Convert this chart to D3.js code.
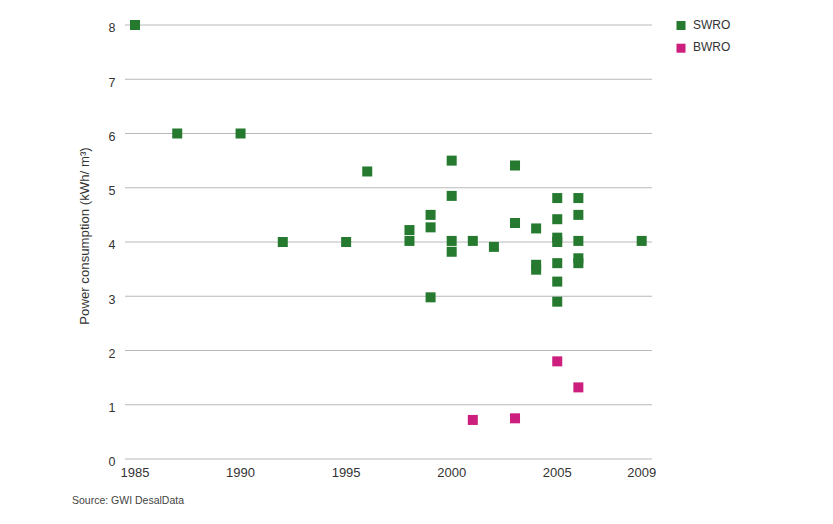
<!DOCTYPE html>
<html><head><meta charset="utf-8">
<script src="https://cdn.jsdelivr.net/npm/d3@7"></script>
<style>body{margin:0;background:#fff;} svg{display:block;font-family:"Liberation Sans",Arial,sans-serif;}</style>
</head><body>
<script>
const seriesNames = ["SWRO", "BWRO"];
const seriesColors = ["#257a2f", "#cc1f7d"];
const swroYears = [1985,1987,1990,1992,1995,1996,1998,1998,1999,1999,1999,2000,2000,2000,2000,2001,2002,2003,2003,2004,2004,2004,2005,2005,2005,2005,2005,2005,2005,2006,2006,2006,2006,2006,2009];
const swroValues = [8.0,6.0,6.0,4.0,4.0,5.3,4.22,4.02,4.5,4.27,2.98,5.5,4.85,4.02,3.82,4.02,3.91,5.41,4.35,4.25,3.58,3.49,4.81,4.42,4.08,4.0,3.61,3.27,2.9,4.81,4.5,4.02,3.7,3.61,4.02];
const bwroYears = [2001,2003,2005,2006];
const bwroValues = [0.72,0.75,1.8,1.32];
const xTicks = [1985,1990,1995,2000,2005,2009];
const yTicks = [0,1,2,3,4,5,6,7,8];
const yTitle = "Power consumption (kWh/ m\u00B3)";
const sourceText = "Source: GWI DesalData";

const W = 833, H = 524;
const svg = d3.select("body").append("svg").attr("width", W).attr("height", H);
const x = d3.scaleLinear().domain([1985, 2009]).range([135, 641.7]);
const y = d3.scaleLinear().domain([0, 8]).range([459, 25]);

// gridlines
svg.append("g").selectAll("line").data(yTicks).join("line")
  .attr("x1", 125).attr("x2", 652)
  .attr("y1", d => y(d)).attr("y2", d => y(d))
  .attr("stroke", "#b9b9b9").attr("stroke-width", 1.2);

// y tick labels
svg.append("g").selectAll("text").data(yTicks).join("text")
  .attr("x", 112).attr("y", d => y(d) + 4)
  .attr("text-anchor", "middle").attr("dominant-baseline", "middle")
  .attr("font-size", 12.5).attr("fill", "#333")
  .text(d => d);

// x tick labels
svg.append("g").selectAll("text").data(xTicks).join("text")
  .attr("x", d => x(d)).attr("y", 477)
  .attr("text-anchor", "middle")
  .attr("font-size", 13).attr("fill", "#333")
  .text(d => d);

// y title
svg.append("text")
  .attr("transform", "translate(89,236) rotate(-90)")
  .attr("text-anchor", "middle").attr("font-size", 13.2).attr("fill", "#333")
  .text(yTitle);

// source
svg.append("text").attr("x", 72).attr("y", 504)
  .attr("font-size", 10.5).attr("fill", "#444").text(sourceText);

const sz = 10;
const swro = swroYears.map((yr, i) => ({yr, v: swroValues[i]}));
const bwro = bwroYears.map((yr, i) => ({yr, v: bwroValues[i]}));
svg.append("g").selectAll("rect").data(swro).join("rect")
  .attr("x", d => x(d.yr) - sz/2).attr("y", d => y(d.v) - sz/2)
  .attr("width", sz).attr("height", sz).attr("fill", seriesColors[0]);
svg.append("g").selectAll("rect").data(bwro).join("rect")
  .attr("x", d => x(d.yr) - sz/2).attr("y", d => y(d.v) - sz/2)
  .attr("width", sz).attr("height", sz).attr("fill", seriesColors[1]);

// legend
const lg = svg.append("g").selectAll("g").data(seriesNames).join("g")
  .attr("transform", (d, i) => `translate(681,${25.5 + i*22.7})`);
lg.append("rect").attr("x", -4.5).attr("y", -4.5).attr("width", 9).attr("height", 9)
  .attr("fill", (d, i) => seriesColors[i]);
lg.append("text").attr("x", 12).attr("y", 0).attr("dominant-baseline", "middle")
  .attr("font-size", 12).attr("fill", "#333").text(d => d);
</script>
</body></html>
